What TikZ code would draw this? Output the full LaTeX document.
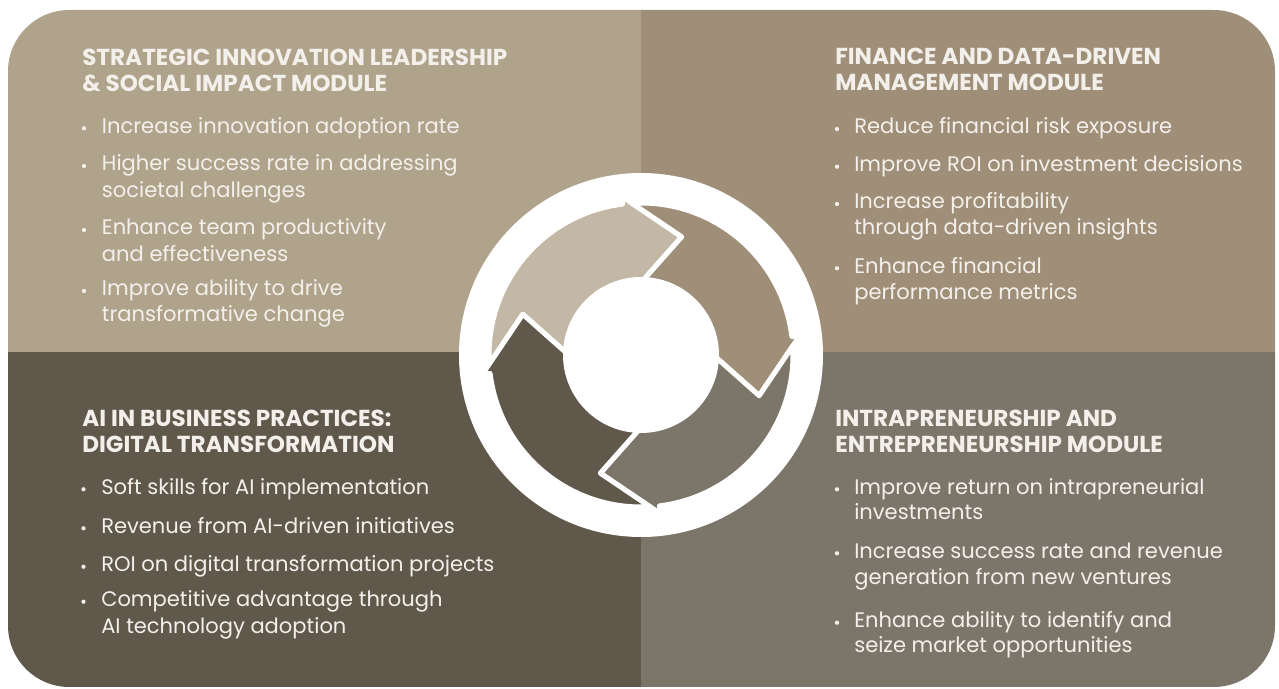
\documentclass[tikz,border=0pt]{standalone}
\usepackage{fontspec}
\setmainfont{Poppins}
\definecolor{qTL}{HTML}{B0A38B}
\definecolor{qTR}{HTML}{A08F78}
\definecolor{qBL}{HTML}{5F584B}
\definecolor{qBR}{HTML}{7C766A}
\definecolor{arA}{HTML}{C3B8A6}
\definecolor{txt}{HTML}{F3F0EB}
\newlength\wbody
\newlength\wtitle
\AtBeginDocument{%
\settowidth\wbody{\fontsize{10pt}{12pt}\selectfont Increase innovation adoption rate}%
\settowidth\wtitle{\fontsize{10pt}{12pt}\selectfont\bfseries STRATEGIC INNOVATION LEADERSHIP}%
\pgfmathsetmacro\bsz{10*268.2/\wbody}%
\pgfmathsetmacro\tsz{10*318.75/\wtitle}%
\xdef\bsz{\bsz}\xdef\tsz{\tsz}}
\begin{document}
\begin{tikzpicture}[x=0.75pt,y=0.75pt]
\tikzset{
  body/.style={font=\fontsize{\bsz pt}{\bsz pt}\selectfont, text=txt, anchor=base west, inner sep=0pt},
  ttl/.style={font=\fontsize{\tsz pt}{\tsz pt}\selectfont\bfseries, text=txt, anchor=base west, inner sep=0pt},
  bul/.style={circle, fill=txt, inner sep=0pt, minimum size=3.2pt},
  arrowseg/.style={draw=white, line width=3.75pt, line join=round}
}
\useasboundingbox (0,0) rectangle (1279,689);
% panel
\begin{scope}
\clip[rounded corners=46pt] (8,2) rectangle (1275,679);
\fill[qTL] (0,337) rectangle (641,689);
\fill[qTR] (641,337) rectangle (1279,689);
\fill[qBL] (0,0) rectangle (641,337);
\fill[qBR] (641,0) rectangle (1279,337);
\end{scope}
% cycle
\fill[white] (641,334) circle[radius=182];
\foreach \k/\col in {0/arA,1/qTR,2/qBR,3/qBL}{
  \begin{scope}[shift={(641,334)},rotate=-90*\k]
  \filldraw[arrowseg, fill=\col] (-178.3:70) -- (-199:125) -- (-176.6:152)
    arc[start angle=-176.6, end angle=-263, radius=152] -- (-263:160) -- (-289:125)
    -- (-263:64) -- (-263:70) arc[start angle=-263, end angle=-178.3, radius=70] -- cycle;
  \end{scope}
}
\fill[white] (641,334) circle[radius=78];
% top left
\node[ttl] (tlt1) at (82,623.5) {STRATEGIC INNOVATION LEADERSHIP};
\node[ttl] (tlt2) at (82,597.5) {\& SOCIAL IMPACT MODULE};
\node[bul] (tlab) at (84,560.7) {};
\node[body] (tla) at (101.7,555.7) {Increase innovation adoption rate};
\node[bul] (tlbb) at (84,523) {};
\node[body] (tlb1) at (101.7,518) {Higher success rate in addressing};
\node[body] (tlb2) at (101.7,491.3) {societal challenges};
\node[bul] (tlcb) at (84,459) {};
\node[body] (tlc1) at (101.7,454) {Enhance team productivity};
\node[body] (tlc2) at (101.7,427.3) {and effectiveness};
\node[bul] (tldb) at (84,398) {};
\node[body] (tld1) at (101.7,393) {Improve ability to drive};
\node[body] (tld2) at (101.7,367.3) {transformative change};
% top right
\node[ttl] (trt1) at (835,624) {FINANCE AND DATA-DRIVEN};
\node[ttl] (trt2) at (835,598) {MANAGEMENT MODULE};
\node[bul] (trab) at (837,560) {};
\node[body] (tra) at (854,555) {Reduce financial risk exposure};
\node[bul] (trbb) at (837,522.3) {};
\node[body] (trb) at (854,517.3) {Improve ROI on investment decisions};
\node[bul] (trcb) at (837,485) {};
\node[body] (trc1) at (854,480) {Increase profitability};
\node[body] (trc2) at (854,454) {through data-driven insights};
\node[bul] (trdb) at (837,420.7) {};
\node[body] (trd1) at (854,415.7) {Enhance financial};
\node[body] (trd2) at (854,389) {performance metrics};
% bottom left
\node[ttl] (blt1) at (82,262.3) {AI IN BUSINESS PRACTICES:};
\node[ttl] (blt2) at (82,236.3) {DIGITAL TRANSFORMATION};
\node[bul] (blab) at (83.5,199.7) {};
\node[body] (bla) at (101,194.7) {Soft skills for AI implementation};
\node[bul] (blbb) at (83.5,160.7) {};
\node[body] (blb) at (101,155.7) {Revenue from AI-driven initiatives};
\node[bul] (blcb) at (83.5,122.3) {};
\node[body] (blc) at (101,117.3) {ROI on digital transformation projects};
\node[bul] (bldb) at (83.5,87.3) {};
\node[body] (bld1) at (101,82.3) {Competitive advantage through};
\node[body] (bld2) at (101,55.7) {AI technology adoption};
% bottom right
\node[ttl] (brt1) at (835,262.3) {INTRAPRENEURSHIP AND};
\node[ttl] (brt2) at (835,236.3) {ENTREPRENEURSHIP MODULE};
\node[bul] (brab) at (837,199.7) {};
\node[body] (bra1) at (854,194.7) {Improve return on intrapreneurial};
\node[body] (bra2) at (854,169) {investments};
\node[bul] (brbb) at (837,135.7) {};
\node[body] (brb1) at (854,130.7) {Increase success rate and revenue};
\node[body] (brb2) at (854,104.7) {generation from new ventures};
\node[bul] (brcb) at (837,66.3) {};
\node[body] (brc1) at (854,61.3) {Enhance ability to identify and};
\node[body] (brc2) at (854,36.7) {seize market opportunities};
\end{tikzpicture}
\end{document}
